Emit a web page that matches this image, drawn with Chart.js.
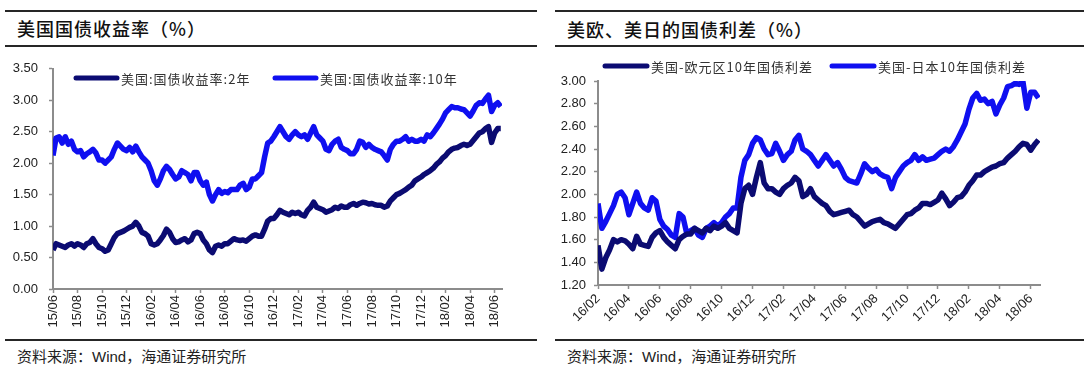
<!DOCTYPE html>
<html>
<head>
<meta charset="utf-8">
<script src="https://cdn.jsdelivr.net/npm/chart.js@4/dist/chart.umd.min.js"></script>
<style>
  html, body { margin: 0; padding: 0; background: #fff; }
  #page { position: relative; width: 1092px; height: 370px; overflow: hidden; }
  .rule { position: absolute; height: 0; border-top: 2px solid #262626; }
  .title { position: absolute; font: 500 18px "Noto Sans CJK SC", sans-serif; color: #111; line-height: 20px; letter-spacing: 1px; }
  .source { position: absolute; font: 15px "Liberation Sans", "Noto Sans CJK SC", sans-serif; color: #222; line-height: 18px; }
  canvas { position: absolute; }
</style>
</head>
<body>
<div id="page">
  <div class="rule" style="left:5px; width:532px; top:10px"></div>
  <div class="rule" style="left:5px; width:532px; top:45px"></div>
  <div class="rule" style="left:5px; width:532px; top:339px"></div>
  <div class="title" style="left:17px; top:18px">美国国债收益率（%）</div>
  <div class="source" style="left:17px; top:348px">资料来源：Wind，海通证券研究所</div>
  <canvas id="yieldChart" width="540" height="290" style="left:0; top:50px"></canvas>

  <div class="rule" style="left:555px; width:529px; top:10px"></div>
  <div class="rule" style="left:555px; width:529px; top:45px"></div>
  <div class="rule" style="left:555px; width:529px; top:339px"></div>
  <div class="title" style="left:567px; top:19px">美欧、美日的国债利差（%）</div>
  <div class="source" style="left:567px; top:348px">资料来源：Wind，海通证券研究所</div>
  <canvas id="spreadChart" width="546" height="290" style="left:546px; top:50px"></canvas>
</div>

<script>
// ---- left chart: weekly readings, 2015/06 .. 2018/06 ----
const yieldTicks = ["15/06", "15/08", "15/10", "15/12", "16/02", "16/04", "16/06", "16/08", "16/10",
                    "16/12", "17/02", "17/04", "17/06", "17/08", "17/10", "17/12", "18/02", "18/04", "18/06"];

const us2y = [
    0.62, 0.72, 0.70, 0.68,  0.66, 0.70, 0.72, 0.68,  0.72, 0.70, 0.66, 0.72,  // 15/06-15/08
    0.74, 0.80, 0.72, 0.66,  0.64, 0.60, 0.62, 0.72,  0.82, 0.88, 0.90, 0.92,  // 15/09-15/11
    0.95, 0.98, 1.00, 1.06,  1.00, 0.90, 0.88, 0.84,  0.72, 0.70, 0.72, 0.78,  // 15/12-16/02
    0.85, 0.95, 0.90, 0.80,  0.74, 0.75, 0.78, 0.80,  0.75, 0.78, 0.88, 0.90,  // 16/03-16/05
    0.88, 0.78, 0.72, 0.62,  0.58, 0.68, 0.70, 0.68,  0.72, 0.72, 0.76, 0.80,  // 16/06-16/08
    0.78, 0.77, 0.78, 0.76,  0.80, 0.84, 0.86, 0.84,  0.84, 0.95, 1.08, 1.12,  // 16/09-16/11
    1.12, 1.18, 1.25, 1.22,  1.20, 1.18, 1.22, 1.20,  1.22, 1.18, 1.16, 1.25,  // 16/12-17/02
    1.30, 1.38, 1.30, 1.28,  1.26, 1.22, 1.24, 1.26,  1.30, 1.28, 1.32, 1.30,  // 17/03-17/05
    1.30, 1.34, 1.36, 1.33,  1.36, 1.38, 1.37, 1.35,  1.36, 1.34, 1.33, 1.33,  // 17/06-17/08
    1.30, 1.32, 1.40, 1.45,  1.50, 1.52, 1.55, 1.58,  1.62, 1.65, 1.72, 1.75,  // 17/09-17/11
    1.78, 1.82, 1.85, 1.88,  1.92, 1.98, 2.02, 2.08,  2.12, 2.18, 2.22, 2.24,  // 17/12-18/02
    2.25, 2.28, 2.30, 2.28,  2.30, 2.36, 2.42, 2.48,  2.50, 2.55, 2.58, 2.33,  // 18/03-18/05
    2.48, 2.55, 2.55                                                          // 18/06
];

const us10y = [
    2.12, 2.40, 2.42, 2.32,  2.42, 2.30, 2.35, 2.22,  2.18, 2.20, 2.10, 2.15,
    2.18, 2.22, 2.16, 2.05,  2.05, 2.00, 2.05, 2.10,  2.22, 2.32, 2.27, 2.22,
    2.20, 2.25, 2.18, 2.27,  2.18, 2.10, 2.05, 2.00,  1.88, 1.72, 1.65, 1.75,
    1.88, 1.95, 1.90, 1.82,  1.75, 1.78, 1.88, 1.85,  1.82, 1.72, 1.85, 1.85,
    1.72, 1.65, 1.70, 1.50,  1.40, 1.50, 1.58, 1.52,  1.55, 1.53, 1.58, 1.58,
    1.58, 1.65, 1.68, 1.58,  1.62, 1.75, 1.75, 1.80,  1.85, 2.10, 2.32, 2.35,
    2.42, 2.50, 2.58, 2.50,  2.42, 2.38, 2.45, 2.50,  2.45, 2.42, 2.45, 2.38,
    2.48, 2.58, 2.45, 2.40,  2.35, 2.22, 2.20, 2.30,  2.35, 2.38, 2.25, 2.22,
    2.20, 2.15, 2.15, 2.22,  2.35, 2.33, 2.25, 2.30,  2.25, 2.22, 2.20, 2.18,
    2.12, 2.05, 2.22, 2.30,  2.35, 2.35, 2.38, 2.42,  2.35, 2.38, 2.35, 2.35,
    2.38, 2.35, 2.45, 2.42,  2.48, 2.55, 2.62, 2.70,  2.80, 2.85, 2.90, 2.88,
    2.88, 2.86, 2.85, 2.80,  2.75, 2.83, 2.92, 2.96,  2.95, 3.02, 3.08, 2.82,
    2.92, 2.96, 2.90
];

// ---- right chart: weekly readings, 2016/02 .. 2018/06 ----
const spreadTicks = ["16/02", "16/04", "16/06", "16/08", "16/10", "16/12", "17/02", "17/04",
                     "17/06", "17/08", "17/10", "17/12", "18/02", "18/04", "18/06"];

const usEuro = [
    1.55, 1.34, 1.44, 1.51,  1.60, 1.58, 1.60, 1.59,  1.56, 1.52, 1.63, 1.56,  // 16/02-16/04
    1.55, 1.54, 1.62, 1.66,  1.68, 1.62, 1.58, 1.55,  1.52, 1.60, 1.63, 1.65,  // 16/05-16/07
    1.65, 1.70, 1.68, 1.66,  1.70, 1.68, 1.72, 1.70,  1.72, 1.75, 1.70, 1.68,  // 16/08-16/10
    1.66, 1.92, 2.05, 2.08,  2.00, 2.15, 2.28, 2.10,  2.05, 2.05, 2.02, 2.00,  // 16/11-17/01
    2.05, 2.08, 2.10, 2.15,  2.12, 1.98, 2.00, 2.05,  1.98, 1.95, 1.92, 1.90,  // 17/02-17/04
    1.85, 1.82, 1.83, 1.84,  1.85, 1.86, 1.82, 1.80,  1.76, 1.72, 1.74, 1.76,  // 17/05-17/07
    1.77, 1.78, 1.75, 1.74,  1.72, 1.70, 1.74, 1.78,  1.82, 1.83, 1.86, 1.88,  // 17/08-17/10
    1.92, 1.92, 1.91, 1.93,  1.95, 2.01, 1.96, 1.90,  1.93, 1.97, 1.98, 2.02,  // 17/11-18/01
    2.08, 2.12, 2.17, 2.17,  2.20, 2.22, 2.24, 2.25,  2.27, 2.28, 2.32, 2.35,  // 18/02-18/04
    2.38, 2.42, 2.45, 2.44,  2.39, 2.44, 2.48                                  // 18/05-18/06
];

const usJapan = [
    1.92, 1.70, 1.76, 1.83,  1.90, 2.00, 2.02, 1.97,  1.82, 1.92, 2.02, 1.92,
    1.88, 1.86, 1.97, 1.94,  1.78, 1.72, 1.69, 1.64,  1.62, 1.83, 1.80, 1.65,
    1.68, 1.70, 1.64, 1.62,  1.70, 1.72, 1.75, 1.72,  1.75, 1.80, 1.83, 1.88,
    1.88, 2.15, 2.30, 2.35,  2.45, 2.50, 2.48, 2.40,  2.35, 2.36, 2.45, 2.38,
    2.30, 2.35, 2.38, 2.48,  2.52, 2.40, 2.38, 2.35,  2.30, 2.25, 2.30, 2.35,
    2.30, 2.25, 2.28, 2.22,  2.15, 2.12, 2.11, 2.10,  2.18, 2.27, 2.23, 2.20,
    2.22, 2.18, 2.16, 2.15,  2.05, 2.15, 2.20, 2.25,  2.28, 2.30, 2.35, 2.30,
    2.33, 2.30, 2.31, 2.32,  2.35, 2.38, 2.40, 2.38,  2.42, 2.48, 2.55, 2.62,
    2.75, 2.85, 2.89, 2.83,  2.84, 2.80, 2.82, 2.71,  2.79, 2.85, 2.95, 2.96,
    2.98, 2.97, 2.99, 2.76,  2.90, 2.90, 2.85
];

const NAVY = "#0b0b72";
const BLUE = "#0f0ff0";
const AXIS = "#8c8c8c";

// weekly points -> x in months from the first tick
function weekly(values) {
    return values.map((v, i) => ({ x: i / 4, y: v }));
}

// thick line legend drawn at fixed spots (like the original report style)
const lineLegend = {
    id: "lineLegend",
    afterDraw(chart, args, opts) {
        const ctx = chart.ctx;
        ctx.save();
        ctx.font = "13px 'Noto Sans CJK SC', sans-serif";
        ctx.letterSpacing = "1px";
        ctx.textBaseline = "middle";
        chart.data.datasets.forEach((ds, i) => {
            const x = opts.x[i];
            ctx.strokeStyle = ds.borderColor;
            ctx.lineWidth = 5;
            ctx.lineCap = "round";
            ctx.beginPath();
            ctx.moveTo(x, opts.y);
            ctx.lineTo(x + opts.len, opts.y);
            ctx.stroke();
            ctx.fillStyle = "#333";
            ctx.fillText(ds.label, x + opts.len + 4, opts.y + 1);
        });
        ctx.restore();
    }
};

function makeChart(id, cfg) {
    const tickFont = { family: "'Liberation Sans', Arial, sans-serif", size: 13 };
    return new Chart(document.getElementById(id), {
        type: "line",
        data: {
            datasets: cfg.series.map(s => ({
                label: s.label,
                data: weekly(s.values),
                borderColor: s.color,
                backgroundColor: s.color,
                borderWidth: 5.5,
                pointRadius: 0,
                borderJoinStyle: "round",
                tension: 0
            }))
        },
        options: {
            responsive: false,
            animation: false,
            devicePixelRatio: 1,
            layout: { padding: { top: cfg.padTop, right: cfg.padRight, left: 0, bottom: 0 } },
            plugins: {
                legend: { display: false },
                tooltip: { enabled: false },
                lineLegend: cfg.legend
            },
            scales: {
                x: {
                    type: "linear",
                    min: 0,
                    max: cfg.xMax,
                    afterFit: s => { s.height = cfg.xHeight; },
                    border: { color: AXIS, width: 2 },
                    grid: { drawOnChartArea: false, tickLength: 4, tickColor: AXIS, tickWidth: 1.5 },
                    ticks: {
                        stepSize: 2,
                        includeBounds: false,
                        autoSkip: false,
                        minRotation: cfg.rotation,
                        maxRotation: cfg.rotation,
                        padding: 2,
                        color: "#222",
                        font: tickFont,
                        callback: v => cfg.ticks[Math.round(v / 2)]
                    }
                },
                y: {
                    min: cfg.yMin,
                    max: cfg.yMax,
                    afterFit: s => { s.width = cfg.yWidth; },
                    border: { color: AXIS, width: 2 },
                    grid: { drawOnChartArea: false, tickLength: 4, tickColor: AXIS, tickWidth: 1.5 },
                    ticks: {
                        stepSize: cfg.yStep,
                        padding: cfg.yPad,
                        color: "#222",
                        font: tickFont,
                        callback: v => v.toFixed(2)
                    }
                }
            }
        },
        plugins: [lineLegend]
    });
}

makeChart("yieldChart", {
    series: [
        { label: "美国:国债收益率:2年", values: us2y, color: NAVY },
        { label: "美国:国债收益率:10年", values: us10y, color: BLUE }
    ],
    ticks: yieldTicks,
    xMax: 36.6,
    rotation: 90,
    yMin: 0, yMax: 3.5, yStep: 0.5,
    padTop: 10, padRight: 38, xHeight: 51, yWidth: 53, yPad: 11,
    legend: { x: [76, 275], y: 28, len: 41 }
});

makeChart("spreadChart", {
    series: [
        { label: "美国-欧元区10年国债利差", values: usEuro, color: NAVY },
        { label: "美国-日本10年国债利差", values: usJapan, color: BLUE }
    ],
    ticks: spreadTicks,
    xMax: 28.6,
    rotation: 45,
    yMin: 1.2, yMax: 3.0, yStep: 0.2,
    padTop: 31, padRight: 52, xHeight: 55, yWidth: 52, yPad: 8,
    legend: { x: [59, 286], y: 16, len: 42 }
});
</script>
</body>
</html>
